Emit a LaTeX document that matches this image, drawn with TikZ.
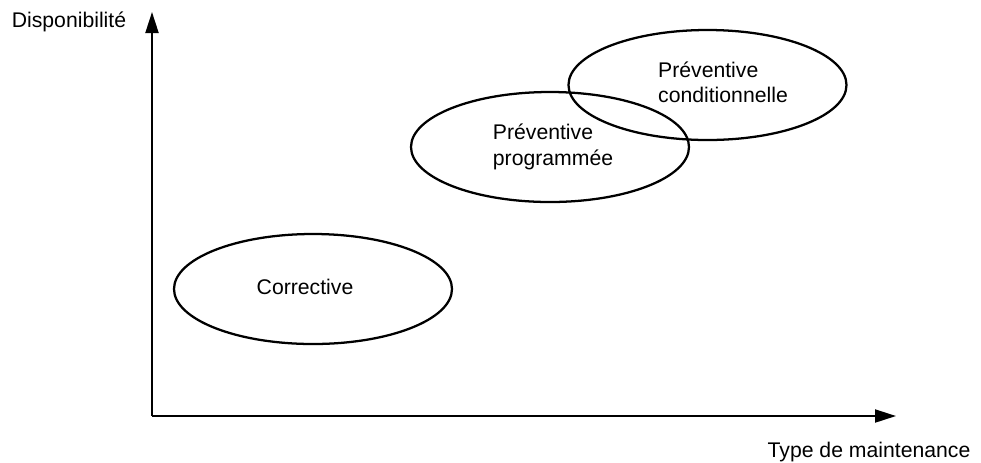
\documentclass[tikz,border=0pt]{standalone}
\usepackage{fontspec}
\setmainfont{Liberation Sans}
\usetikzlibrary{arrows.meta,shapes.geometric}
\begin{document}
\begin{tikzpicture}[x=0.75pt,y=-0.75pt,
  axis/.style={line width=1.5pt,-{Triangle[length=15.75pt,width=9.75pt]}},
  zone/.style={draw,ellipse,line width=1.7pt,minimum width=208.5pt,minimum height=82.5pt,inner sep=0pt},
  lbl/.style={font=\fontsize{15.9}{19}\selectfont,inner sep=0pt,align=left}]
\useasboundingbox (0,0) rectangle (981,462);
\coordinate (o) at (152,416);
\coordinate (ytip) at (152,12);
\coordinate (xtip) at (896,416);
\draw[axis] (o) -- (ytip);
\draw[axis] (o) -- (xtip);
\node[lbl] (ylab) at (69,22) {Disponibilité};
\node[lbl] (xlab) at (869,452) {Type de maintenance};
\node[zone] (corr) at (313,289) {};
\node[zone] (prog) at (550,147) {};
\node[zone] (cond) at (707.5,85) {};
\node[lbl] (tcorr) at (305,287) {Corrective};
\node[lbl] (tprog) at (553,147) {Préventive\\programmée};
\node[lbl] (tcond) at (723,82) {Préventive\\conditionnelle};
\end{tikzpicture}
\end{document}
